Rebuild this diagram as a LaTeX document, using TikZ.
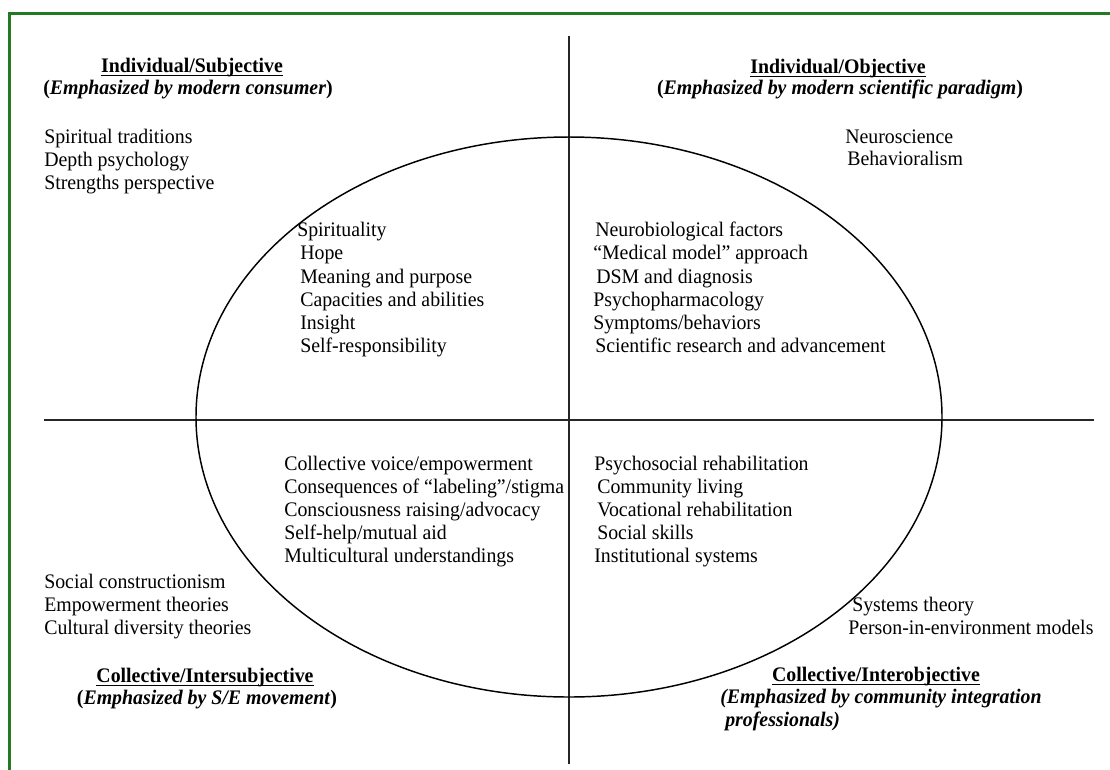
\documentclass[tikz,border=0pt]{standalone}
\usepackage{fontspec}
\setmainfont{Liberation Serif}[FakeStretch=0.96]
\definecolor{framegreen}{RGB}{34,122,34}
\tikzset{
  txt/.style={anchor=base west, inner sep=0pt, font=\fontsize{15.5pt}{17.5pt}\selectfont},
  head/.style={anchor=base, inner sep=0pt, font=\fontsize{15.5pt}{17.5pt}\selectfont\bfseries},
  sub/.style={anchor=base, inner sep=0pt, font=\fontsize{15.5pt}{17.5pt}\selectfont\bfseries},
  subl/.style={anchor=base west, inner sep=0pt, font=\fontsize{15.5pt}{17.5pt}\selectfont\bfseries\itshape},
  axis/.style={line width=1.5pt, black!85},
  ulinestyle/.style={line width=0.8pt},
}
\begin{document}
\begin{tikzpicture}[x=0.75pt, y=-0.75pt]
\useasboundingbox (0,0) rectangle (1110,769);
\clip (0,0) rectangle (1110,769);
\fill[white] (0,0) rectangle (1110,769);
% frame
\draw[framegreen, line width=1.6pt] (9.5,13.5) rectangle (1130,790);
% axes and ellipse
\coordinate (vtop) at (569,36);
\coordinate (vbot) at (569,764);
\coordinate (hl) at (44,420);
\coordinate (hr) at (1094,420);
\coordinate (ctr) at (569,417);
\draw[axis] (vtop) -- (vbot);
\draw[axis] (hl) -- (hr);
\draw[line width=1.1pt] (ctr) ellipse [x radius=373, y radius=280];

% top-left
\node[head] (h1) at (192,72) {Individual/Subjective};
\draw[ulinestyle] ([yshift=-2.6pt]h1.base west) -- ([yshift=-2.6pt]h1.base east);
\node[sub] (s1) at (188,94) {(\textit{Emphasized by modern consumer})};
\node[txt] (a1) at (44,143) {Spiritual traditions};
\node[txt] (a2) at (44,166) {Depth psychology};
\node[txt] (a3) at (44,189) {Strengths perspective};

% top-right
\node[head] (h2) at (838,73) {Individual/Objective};
\draw[ulinestyle] ([yshift=-2.6pt]h2.base west) -- ([yshift=-2.6pt]h2.base east);
\node[sub] (s2) at (840,94) {(\textit{Emphasized by modern scientific paradigm})};
\node[txt] (b1) at (845,143) {Neuroscience};
\node[txt] (b2) at (847,165) {Behavioralism};

% ellipse upper-left
\node[txt] (c1) at (297,236) {Spirituality};
\node[txt] (c2) at (300,259) {Hope};
\node[txt] (c3) at (300,283) {Meaning and purpose};
\node[txt] (c4) at (300,306) {Capacities and abilities};
\node[txt] (c5) at (300,329) {Insight};
\node[txt] (c6) at (300,352) {Self-responsibility};

% ellipse upper-right
\node[txt] (d1) at (595,236) {Neurobiological factors};
\node[txt] (d2) at (593,259) {“Medical model” approach};
\node[txt] (d3) at (596,283) {DSM and diagnosis};
\node[txt] (d4) at (593,306) {Psychopharmacology};
\node[txt] (d5) at (593,329) {Symptoms/behaviors};
\node[txt] (d6) at (595,352) {Scientific research and advancement};

% ellipse lower-left
\node[txt] (e1) at (284,470) {Collective voice/empowerment};
\node[txt] (e2) at (284,493) {Consequences of “labeling”/stigma};
\node[txt] (e3) at (284,516) {Consciousness raising/advocacy};
\node[txt] (e4) at (284,539) {Self-help/mutual aid};
\node[txt] (e5) at (284,562) {Multicultural understandings};

% ellipse lower-right
\node[txt] (f1) at (594,470) {Psychosocial rehabilitation};
\node[txt] (f2) at (597,493) {Community living};
\node[txt] (f3) at (597,516) {Vocational rehabilitation};
\node[txt] (f4) at (597,539) {Social skills};
\node[txt] (f5) at (594,562) {Institutional systems};

% bottom-left
\node[txt] (g1) at (44,588) {Social constructionism};
\node[txt] (g2) at (44,611) {Empowerment theories};
\node[txt] (g3) at (44,634) {Cultural diversity theories};
\node[head] (h3) at (205,682) {Collective/Intersubjective};
\draw[ulinestyle] ([yshift=-2.6pt]h3.base west) -- ([yshift=-2.6pt]h3.base east);
\node[sub] (s3) at (207,704) {(\textit{Emphasized by S/E movement})};

% bottom-right
\node[txt] (k1) at (852,611) {Systems theory};
\node[txt] (k2) at (848,634) {Person-in-environment models};
\node[head] (h4) at (876,681) {Collective/Interobjective};
\draw[ulinestyle] ([yshift=-2.6pt]h4.base west) -- ([yshift=-2.6pt]h4.base east);
\node[subl] (s4) at (720,703) {(Emphasized by community integration};
\node[subl] (s5) at (725,726) {professionals)};
\end{tikzpicture}
\end{document}
